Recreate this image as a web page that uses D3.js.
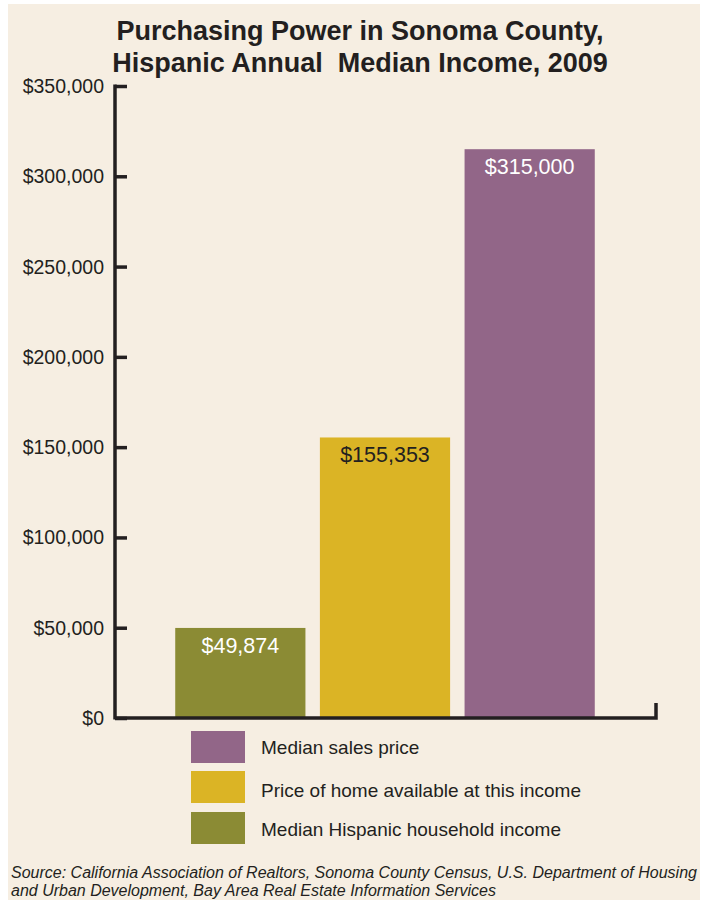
<!DOCTYPE html>
<html>
<head>
<meta charset="utf-8">
<script src="https://cdn.jsdelivr.net/npm/d3@7"></script>
<style>
  body { margin: 0; background: #ffffff; }
  text { font-family: "Liberation Sans", Arial, sans-serif; white-space: pre; }
</style>
</head>
<body>
<div id="chart"></div>
<script>
// data
const categories = ["Median Hispanic household income", "Price of home available at this income", "Median sales price"];
const values = [49874, 155353, 315000];
const valueLabels = ["$49,874", "$155,353", "$315,000"];
const yTicks = [0, 50000, 100000, 150000, 200000, 250000, 300000, 350000];
const legendOrder = ["Median sales price", "Price of home available at this income", "Median Hispanic household income"];
const titleLines = ["Purchasing Power in Sonoma County,", "Hispanic Annual  Median Income, 2009"];
const sourceLines = [
  "Source: California Association of Realtors, Sonoma County Census, U.S. Department of Housing",
  "and Urban Development, Bay Area Real Estate Information Services"
];

const colors = ["#8b8b34", "#dbb425", "#926688"];
const labelColors = ["#ffffff", "#231f20", "#ffffff"];
const ink = "#231f20";

const W = 702, H = 903;
const svg = d3.select("#chart").append("svg")
    .attr("width", W)
    .attr("height", H);

// cream panel
svg.append("rect")
    .attr("x", 8).attr("y", 4)
    .attr("width", 692).attr("height", 896)
    .attr("fill", "#f6eee2");

// title
svg.append("g").selectAll("text")
    .data(titleLines)
    .join("text")
    .attr("x", 360)
    .attr("y", (d, i) => 40 + i * 32)
    .attr("text-anchor", "middle")
    .attr("font-size", "27px")
    .attr("font-weight", "bold")
    .attr("fill", ink)
    .text(d => d);

// scales
const x = d3.scaleBand()
    .domain(categories)
    .range([168, 602])
    .paddingInner(0.1)
    .paddingOuter(0.05);

const y = d3.scaleLinear()
    .domain([0, 350000])
    .range([718, 86]);

const axisX = 115;

// y axis
const yAxis = svg.append("g")
    .attr("transform", `translate(${axisX},0)`)
    .call(d3.axisRight(y)
        .tickValues(yTicks)
        .tickSize(12)
        .tickFormat(""));
yAxis.select(".domain").remove();
yAxis.selectAll("line").attr("stroke", ink).attr("stroke-width", 3.5);

svg.append("line")
    .attr("x1", axisX).attr("x2", axisX)
    .attr("y1", y(350000) - 1.5).attr("y2", y(0) + 1.5)
    .attr("stroke", ink).attr("stroke-width", 3.5);

// tick labels
svg.append("g").selectAll("text")
    .data(yTicks)
    .join("text")
    .attr("x", 104)
    .attr("y", d => y(d) + 7)
    .attr("text-anchor", "end")
    .attr("font-size", "19.5px")
    .attr("fill", ink)
    .text(d => d3.format("$,")(d));

// bars
svg.append("g").selectAll("rect")
    .data(values)
    .join("rect")
    .attr("x", (d, i) => x(categories[i]))
    .attr("y", d => y(d))
    .attr("width", x.bandwidth())
    .attr("height", d => y(0) - y(d))
    .attr("fill", (d, i) => colors[i]);

// value labels
svg.append("g").selectAll("text")
    .data(values)
    .join("text")
    .attr("x", (d, i) => x(categories[i]) + x.bandwidth() / 2)
    .attr("y", d => y(d) + 25)
    .attr("text-anchor", "middle")
    .attr("font-size", "21.5px")
    .attr("fill", (d, i) => labelColors[i])
    .text((d, i) => valueLabels[i]);

// x axis line with right end tick
svg.append("path")
    .attr("d", `M${axisX},${y(0)}H656V703`)
    .attr("fill", "none")
    .attr("stroke", ink)
    .attr("stroke-width", 3.5);

// legend
const legend = svg.append("g").selectAll("g")
    .data(legendOrder)
    .join("g")
    .attr("transform", (d, i) => `translate(191,${731 + i * 41})`);

legend.append("rect")
    .attr("width", 54)
    .attr("height", 32)
    .attr("y", (d, i) => i === 0 ? 0 : -1)
    .attr("fill", d => colors[categories.indexOf(d)]);

legend.append("text")
    .attr("x", 70)
    .attr("y", (d, i) => i === 1 ? 25 : 23)
    .attr("font-size", "19px")
    .attr("fill", ink)
    .text(d => d);

// source
svg.append("g").selectAll("text")
    .data(sourceLines)
    .join("text")
    .attr("x", 11)
    .attr("y", (d, i) => 878 + i * 18)
    .attr("font-size", "16px")
    .attr("font-style", "italic")
    .attr("fill", ink)
    .text(d => d);
</script>
</body>
</html>
